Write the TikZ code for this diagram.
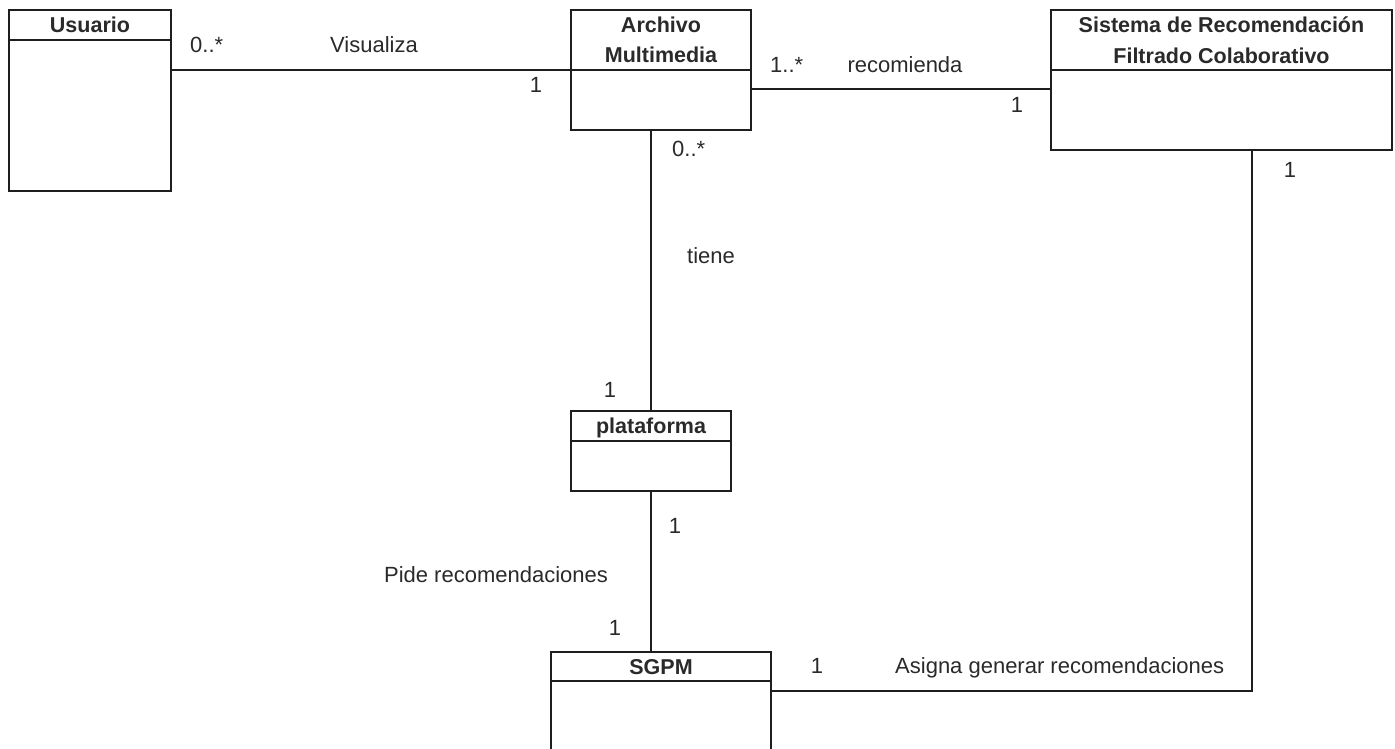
\documentclass[tikz,border=0pt]{standalone}
\usepackage{fontspec}
\setmainfont{Liberation Sans}
\definecolor{ink}{HTML}{1E1E1E}
\definecolor{txt}{HTML}{2A2A2A}
\begin{document}
\begin{tikzpicture}[x=1pt,y=-1pt,
  classbox/.style={draw=ink, line width=1.6pt, fill=white, anchor=north west,
                   inner sep=0pt, outer sep=0pt},
  ctitle/.style={font=\bfseries\fontsize{21.5}{26}\selectfont, text=txt,
                 anchor=base, inner sep=0pt},
  lbl/.style={font=\fontsize{22}{26}\selectfont, text=txt, anchor=base, inner sep=0pt},
  lblw/.style={lbl, anchor=base west},
  assoc/.style={draw=ink, line width=1.6pt}]
\useasboundingbox (0,0) rectangle (1395,749);
\fill[white] (0,0) rectangle (1395,749);

% class boxes
\node[classbox, minimum width=162pt, minimum height=181pt] (usr)  at (9,10)   {};
\node[classbox, minimum width=180pt, minimum height=120pt] (arch) at (571,10) {};
\node[classbox, minimum width=341pt, minimum height=140pt] (sis)  at (1051,10) {};
\node[classbox, minimum width=160pt, minimum height=80pt]  (plat) at (571,411) {};
\node[classbox, minimum width=220pt, minimum height=110pt] (sgpm) at (551,652) {};

% name compartments
\draw[assoc] ([yshift=-30pt]usr.north west)  -- ([yshift=-30pt]usr.north east);
\draw[assoc] ([yshift=-60pt]arch.north west) -- ([yshift=-60pt]arch.north east);
\draw[assoc] ([yshift=-60pt]sis.north west)  -- ([yshift=-60pt]sis.north east);
\draw[assoc] ([yshift=-30pt]plat.north west) -- ([yshift=-30pt]plat.north east);
\draw[assoc] ([yshift=-29pt]sgpm.north west) -- ([yshift=-29pt]sgpm.north east);

\node[ctitle] (usrT)  at ([yshift=-23pt]usr.north)  {Usuario};
\node[ctitle] (archT) at ([yshift=-23pt]arch.north) {Archivo};
\node[ctitle] (archU) at ([yshift=-53pt]arch.north) {Multimedia};
\node[ctitle] (sisT)  at ([yshift=-23pt]sis.north)  {Sistema de Recomendación};
\node[ctitle] (sisU)  at ([yshift=-54pt]sis.north)  {Filtrado Colaborativo};
\node[ctitle] (platT) at ([yshift=-22pt]plat.north) {plataforma};
\node[ctitle] (sgpmT) at ([yshift=-22pt]sgpm.north) {SGPM};

% associations
\draw[assoc] (arch.west) -- (arch.west -| usr.east);
\coordinate (archR) at ([yshift=-19pt]arch.east);
\draw[assoc] (archR) -- (archR -| sis.west);
\draw[assoc] (plat.north) -- (plat.north |- arch.south);
\draw[assoc] (plat.south) -- (plat.south |- sgpm.north);
\coordinate (sgpmR) at ([yshift=-39pt]sgpm.north east);
\coordinate (sisB)  at ([xshift=30.5pt]sis.south);
\draw[assoc] (sgpmR) -| (sisB);

% multiplicities and role names
\node[lblw] (m1) at (190,53)  {0..*};
\node[lbl]  (r1) at (374,53)  {Visualiza};
\node[lbl]  (m2) at (536,93)  {1};
\node[lblw] (m3) at (770,73)  {1..*};
\node[lbl]  (r2) at (905,73)  {recomienda};
\node[lbl]  (m4) at (1017,113) {1};
\node[lblw] (m5) at (672,157) {0..*};
\node[lbl]  (r3) at (711,263) {tiene};
\node[lbl]  (m6) at (610,397) {1};
\node[lbl]  (m7) at (675,533) {1};
\node[lbl]  (r4) at (496,582) {Pide recomendaciones};
\node[lbl]  (m8) at (615,635) {1};
\node[lbl]  (m9) at (817,673) {1};
\node[lblw] (r5) at (895,673) {Asigna generar recomendaciones};
\node[lbl]  (m10) at (1290,177) {1};
\end{tikzpicture}
\end{document}
